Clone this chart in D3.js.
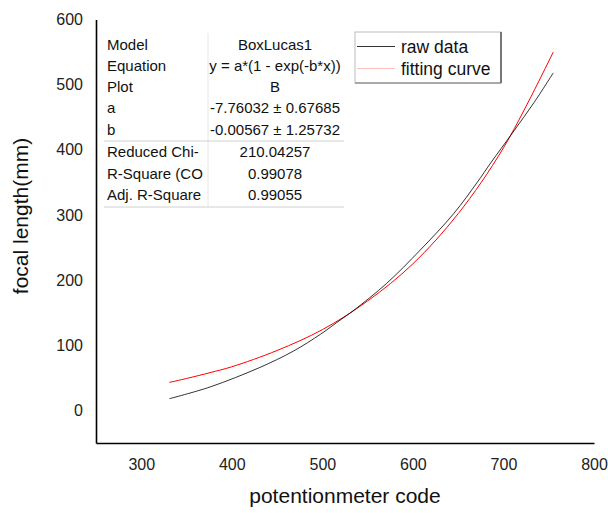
<!DOCTYPE html>
<html>
<head>
<meta charset="utf-8">
<script src="https://cdn.jsdelivr.net/npm/d3@7"></script>
<style>
  html, body { margin: 0; padding: 0; background: #fff; }
  svg { display: block; font-family: Arial, "Liberation Sans", sans-serif; }
</style>
</head>
<body>
<svg id="chart" width="608" height="513"></svg>
<script>
// Potentiometer code vs. focal length, measured and fitted (BoxLucas1)
const rawCode  = [331, 376, 431, 468, 498, 516, 535, 571, 608, 645, 671, 686, 710, 734, 755];
const rawFocal = [18, 36, 66, 91, 117, 135, 154, 195, 246, 302, 350, 380, 426, 473, 518];

const fitCode  = [331, 350, 376, 400, 450, 500, 550, 600, 650, 700, 755];
const fitFocal = [43, 49, 58, 67, 92, 124, 168, 225, 302, 403, 550];

const xTicks = [300, 400, 500, 600, 700, 800];
const yTicks = [0, 100, 200, 300, 400, 500, 600];

const fitLabels = ["Model", "Equation", "Plot", "a", "b", "Reduced Chi-", "R-Square (CO", "Adj. R-Square"];
const fitValues = ["BoxLucas1", "y = a*(1 - exp(-b*x))", "B", "-7.76032 \u00b1 0.67685", "-0.00567 \u00b1 1.25732", "210.04257", "0.99078", "0.99055"];

const legendNames = ["raw data", "fitting curve"];
const legendColors = ["#000000", "#ff0000"];

const svg = d3.select("#chart");

const x = d3.scaleLinear().domain([250, 800]).range([96, 594]);
const y = d3.scaleLinear().domain([-50, 600]).range([443, 19.5]);

// axes: plain lines, no tick marks
const xAxis = svg.append("g")
  .attr("transform", `translate(0,${y(-50)})`)
  .call(d3.axisBottom(x).tickValues(xTicks).tickSize(0).tickPadding(16).tickFormat(d3.format("d")));
const yAxis = svg.append("g")
  .attr("transform", `translate(${x(250)},0)`)
  .call(d3.axisLeft(y).tickValues(yTicks).tickSize(0).tickPadding(13).tickFormat(d3.format("d")));

[xAxis, yAxis].forEach(g => {
  g.select(".domain").attr("stroke", "#000").attr("stroke-width", 1.6);
  g.selectAll("text").attr("font-size", 16).attr("fill", "#222")
    .attr("font-family", "Arial, 'Liberation Sans', sans-serif");
});

svg.append("text")
  .attr("x", 345).attr("y", 503)
  .attr("text-anchor", "middle")
  .attr("font-size", 21).attr("fill", "#111")
  .text("potentionmeter code");

svg.append("text")
  .attr("transform", `translate(28,216) rotate(-90)`)
  .attr("text-anchor", "middle")
  .attr("font-size", 21).attr("fill", "#111")
  .text("focal length(mm)");

// curves
const line = d3.line().x(d => x(d[0])).y(d => y(d[1])).curve(d3.curveCatmullRom.alpha(0.5));

svg.append("path")
  .datum(fitCode.map((c, i) => [c, fitFocal[i]]))
  .attr("fill", "none").attr("stroke", legendColors[1]).attr("stroke-width", 1)
  .attr("d", line);

svg.append("path")
  .datum(rawCode.map((c, i) => [c, rawFocal[i]]))
  .attr("fill", "none").attr("stroke", legendColors[0]).attr("stroke-width", 1)
  .attr("opacity", 0.8)
  .attr("d", line);

// fit parameter table
const tbl = svg.append("g");
const tblX0 = 104, tblX1 = 344, tblY0 = 33, tblY1 = 207, colSplit = 208;
tbl.append("rect").attr("x", tblX0).attr("y", tblY0)
  .attr("width", tblX1 - tblX0).attr("height", tblY1 - tblY0)
  .attr("fill", "#fff");
tbl.append("line").attr("x1", colSplit).attr("x2", colSplit).attr("y1", tblY0).attr("y2", tblY1)
  .attr("stroke", "#e6e6e6");
tbl.append("line").attr("x1", tblX0).attr("x2", tblX1).attr("y1", 141).attr("y2", 141)
  .attr("stroke", "#cfcfcf");
tbl.append("line").attr("x1", tblX0).attr("x2", tblX1).attr("y1", tblY1).attr("y2", tblY1)
  .attr("stroke", "#cfcfcf");

const rowY = [45, 66, 87, 108, 129.5, 152, 173.5, 195];
tbl.selectAll("text.lab").data(fitLabels).join("text")
  .attr("class", "lab")
  .attr("x", 107).attr("y", (d, i) => rowY[i]).attr("dy", "0.35em")
  .attr("font-size", 15).attr("fill", "#111")
  .text(d => d);
tbl.selectAll("text.val").data(fitValues).join("text")
  .attr("class", "val")
  .attr("x", 275).attr("y", (d, i) => rowY[i]).attr("dy", "0.35em")
  .attr("text-anchor", "middle")
  .attr("font-size", 15).attr("fill", "#111")
  .text(d => d);

// legend
const lg = svg.append("g");
lg.append("rect").attr("x", 355).attr("y", 32).attr("width", 146).attr("height", 51)
  .attr("fill", "#fff").attr("stroke", "#bbb").attr("stroke-width", 1);
lg.append("line").attr("x1", 501).attr("x2", 501).attr("y1", 32).attr("y2", 83)
  .attr("stroke", "#333").attr("stroke-width", 1.2);
lg.append("line").attr("x1", 355).attr("x2", 501).attr("y1", 83).attr("y2", 83)
  .attr("stroke", "#777").attr("stroke-width", 1.2);

legendNames.forEach((name, i) => {
  const cy = 46.5 + i * 22;
  lg.append("line").attr("x1", 357).attr("x2", 395).attr("y1", cy).attr("y2", cy)
    .attr("stroke", legendColors[i]).attr("stroke-width", 1)
    .attr("opacity", i === 0 ? 0.8 : 0.25);
  lg.append("text").attr("x", 401).attr("y", cy).attr("dy", "0.35em")
    .attr("font-size", 17.5).attr("fill", "#111")
    .text(name);
});
</script>
</body>
</html>
